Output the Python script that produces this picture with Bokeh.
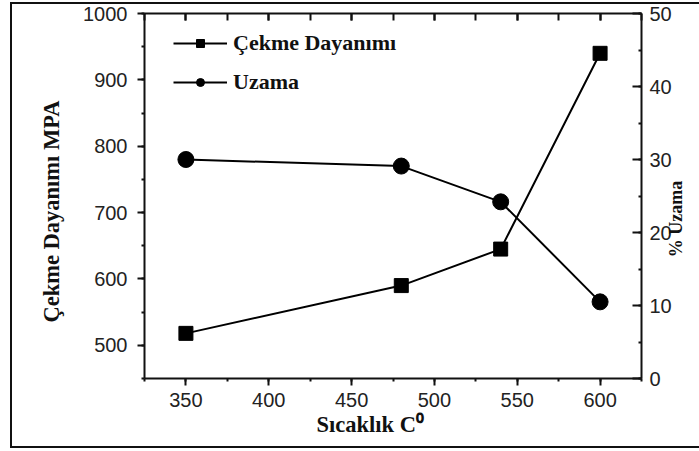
from math import pi

from bokeh.embed import file_html
from bokeh.resources import INLINE
from bokeh.plotting import figure
from bokeh.models import (ColumnDataSource, Range1d, LinearAxis, SingleIntervalTicker, FixedTicker,
                          Legend, LegendItem, Title, InlineStyleSheet)

# Measured tensile strength and elongation against temperature
sicaklik = [350, 480, 540, 600]
cekme_dayanimi = [518, 590, 645, 940]
uzama = [30.0, 29.1, 24.2, 10.5]

W, H = 699, 451
FL, FR, FT, FB = 144, 642, 13, 378  # frame edges in canvas pixels

TICK_FONT = "Liberation Sans"
LABEL_FONT = "Liberation Serif"
INK = "#111111"

p = figure(width=W, height=H, output_backend="svg", toolbar_location=None,
           x_range=Range1d(325, 625), y_range=Range1d(450, 1000),
           min_border_left=FL, min_border_right=W - FR,
           min_border_top=FT, min_border_bottom=H - FB,
           x_axis_location=None, y_axis_location=None)
p.extra_y_ranges = {"uzama": Range1d(0, 50)}
p.grid.visible = False
p.outline_line_color = None
p.background_fill_color = "white"
p.border_fill_color = "white"

# thin box drawn around the whole chart (open on the right edge)
p.stylesheets = [InlineStyleSheet(css="""
:host { position: relative; }
:host::after {
  content: ""; position: absolute; left: 10px; top: 2px; width: 689px; height: 446px;
  border-left: 2px solid #111; border-top: 2px solid #111; border-bottom: 2px solid #111;
  box-sizing: border-box; pointer-events: none;
}
""")]


def style_axis(ax, tick_in, tick_out, minor_in, minor_out, show_labels=True):
    ax.axis_line_color = INK
    ax.axis_line_width = 2
    ax.major_tick_line_color = INK
    ax.major_tick_line_width = 2
    ax.minor_tick_line_color = INK
    ax.minor_tick_line_width = 2
    ax.major_tick_in = tick_in
    ax.major_tick_out = tick_out
    ax.minor_tick_in = minor_in
    ax.minor_tick_out = minor_out
    ax.major_label_text_font = TICK_FONT
    ax.major_label_text_font_size = "20px" if show_labels else "0px"
    ax.major_label_text_color = "#222222"
    ax.major_label_standoff = 8 if show_labels else 0


bottom = LinearAxis(ticker=SingleIntervalTicker(interval=50, num_minor_ticks=2))
style_axis(bottom, 0, 7, 0, 3)
bottom.major_label_standoff = 7
p.add_layout(bottom, "below")

top = LinearAxis(ticker=SingleIntervalTicker(interval=50, num_minor_ticks=2))
style_axis(top, 7, 0, 7, 0, show_labels=False)
top.major_label_text_alpha = 0
p.add_layout(top, "above")

left = LinearAxis(ticker=SingleIntervalTicker(interval=100, num_minor_ticks=2))
style_axis(left, 0, 7, 0, 3)
left.major_label_standoff = 10
p.add_layout(left, "left")

right = LinearAxis(y_range_name="uzama", ticker=SingleIntervalTicker(interval=10, num_minor_ticks=2))
style_axis(right, 9, 0, 3, 0)
p.add_layout(right, "right")

# right-hand title, reading upwards from the 16.6 % level, carried as the single label of a bare axis
uzama_title_at = 16.6
right_title = LinearAxis(y_range_name="uzama", ticker=FixedTicker(ticks=[uzama_title_at], minor_ticks=[]),
                         major_label_overrides={uzama_title_at: "% Uzama"},
                         major_label_orientation=pi / 2,
                         axis_line_color=None, major_tick_line_color=None,
                         minor_tick_line_color=None,
                         major_tick_in=0, major_tick_out=0, minor_tick_in=0, minor_tick_out=0,
                         axis_label_standoff=0, major_label_standoff=2,
                         major_label_text_baseline="top",
                         major_label_text_font=LABEL_FONT, major_label_text_font_style="bold",
                         major_label_text_font_size="18px", major_label_text_color=INK)
p.add_layout(right_title, "right")

# left title starts 56 px above the frame bottom; bottom title starts 172 px right of the frame left
p.add_layout(Title(text="Çekme Dayanımı MPA", align="left", offset=56, standoff=34,
                   text_font=LABEL_FONT, text_font_style="bold", text_font_size="22.5px",
                   text_color=INK), "left")
p.add_layout(Title(text="Sıcaklık C\u2070", align="left", offset=172, standoff=0,
                   text_font=LABEL_FONT, text_font_style="bold", text_font_size="22.5px",
                   text_color=INK), "below")

src = ColumnDataSource(dict(t=sicaklik, c=cekme_dayanimi, u=uzama))

p.line("t", "c", source=src, line_color="black", line_width=2)
p.scatter("t", "c", source=src, marker="square", size=14, fill_color="black", line_color="black")
p.line("t", "u", source=src, y_range_name="uzama", line_color="black", line_width=2)
p.scatter("t", "u", source=src, y_range_name="uzama", marker="circle", size=16,
          fill_color="black", line_color="black")

# legend swatches with smaller markers than the plotted points (NaN rows are not drawn)
blank = ColumnDataSource(dict(t=[float("nan")], c=[float("nan")]))
lg_l1 = p.line("t", "c", source=blank, line_color="black", line_width=2)
lg_s1 = p.scatter("t", "c", source=blank, marker="square", size=10, fill_color="black", line_color="black")
lg_l2 = p.line("t", "c", source=blank, line_color="black", line_width=2)
lg_c2 = p.scatter("t", "c", source=blank, marker="circle", size=12, fill_color="black", line_color="black")

legend = Legend(items=[LegendItem(label="Çekme Dayanımı", renderers=[lg_l1, lg_s1]),
                       LegendItem(label="Uzama", renderers=[lg_l2, lg_c2])],
                location=(29, 283), glyph_width=54, glyph_height=20, label_height=20,
                label_standoff=6, spacing=13, padding=0, margin=0,
                border_line_alpha=0, background_fill_alpha=0,
                label_text_font=LABEL_FONT, label_text_font_style="bold",
                label_text_font_size="22px", label_text_color=INK)
p.add_layout(legend, "center")

open("out.html", "w").write(file_html(p, INLINE))
